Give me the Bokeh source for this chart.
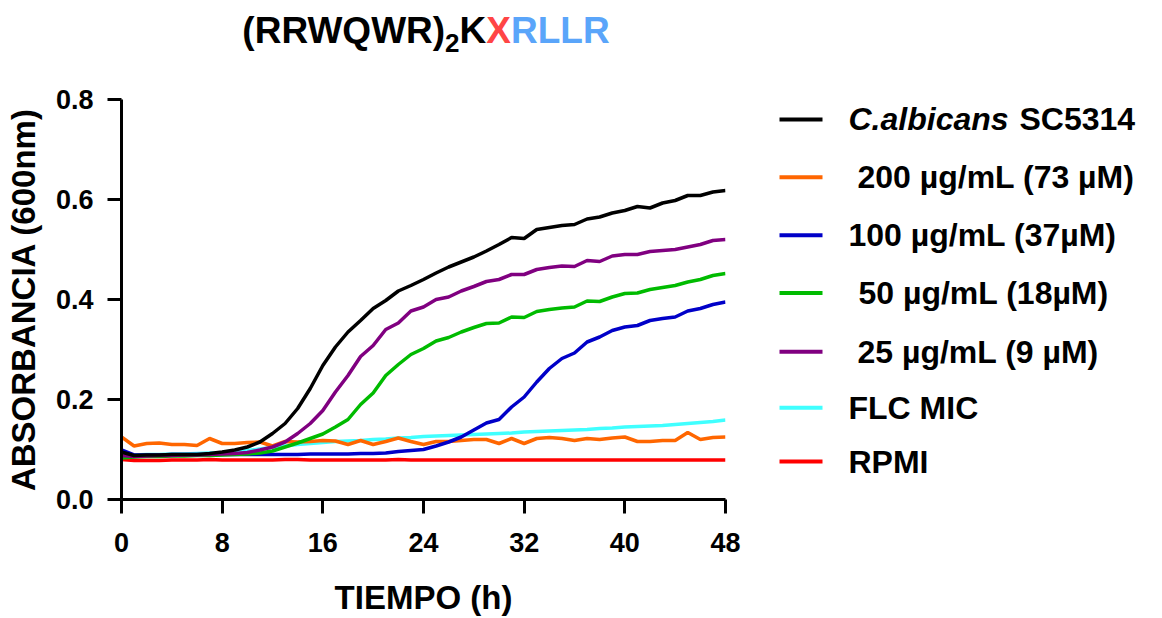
from bokeh.plotting import figure
from bokeh.models import FixedTicker, PrintfTickFormatter, Range1d, Div
from bokeh.layouts import column, row
from bokeh.core.properties import value
from bokeh.embed import file_html
from bokeh.resources import INLINE

# ---------------- data ----------------
time_h = list(range(49))

albicans = [0.095, 0.088, 0.089, 0.089, 0.090, 0.090, 0.090, 0.092, 0.095, 0.099,
            0.105, 0.115, 0.132, 0.152, 0.182, 0.222, 0.268, 0.305, 0.335, 0.358,
            0.382, 0.398, 0.417, 0.428, 0.440, 0.453, 0.465, 0.475, 0.485, 0.497,
            0.510, 0.524, 0.522, 0.540, 0.544, 0.548, 0.550, 0.561, 0.565, 0.573,
            0.578, 0.586, 0.583, 0.593, 0.598, 0.608, 0.608, 0.615, 0.618]

c200 = [0.125, 0.107, 0.112, 0.113, 0.110, 0.110, 0.108, 0.122, 0.112, 0.112,
        0.114, 0.115, 0.107, 0.116, 0.115, 0.116, 0.118, 0.117, 0.110, 0.118,
        0.110, 0.116, 0.123, 0.116, 0.110, 0.116, 0.116, 0.118, 0.120, 0.120,
        0.112, 0.122, 0.112, 0.122, 0.124, 0.122, 0.118, 0.122, 0.120, 0.123,
        0.125, 0.116, 0.116, 0.118, 0.118, 0.134, 0.120, 0.124, 0.125]

c100 = [0.099, 0.089, 0.089, 0.089, 0.090, 0.090, 0.090, 0.090, 0.090, 0.090,
        0.090, 0.090, 0.090, 0.090, 0.090, 0.091, 0.091, 0.091, 0.091, 0.092,
        0.092, 0.093, 0.096, 0.098, 0.100, 0.107, 0.115, 0.125, 0.139, 0.153,
        0.160, 0.185, 0.205, 0.235, 0.262, 0.282, 0.293, 0.315, 0.325, 0.338,
        0.345, 0.348, 0.358, 0.362, 0.365, 0.377, 0.382, 0.390, 0.395]

c50 = [0.083, 0.085, 0.086, 0.086, 0.087, 0.087, 0.088, 0.088, 0.089, 0.090,
       0.091, 0.093, 0.097, 0.105, 0.113, 0.122, 0.131, 0.145, 0.160, 0.190,
       0.213, 0.248, 0.270, 0.290, 0.302, 0.317, 0.324, 0.335, 0.344, 0.352,
       0.353, 0.365, 0.364, 0.376, 0.380, 0.383, 0.385, 0.397, 0.396, 0.405,
       0.412, 0.413, 0.420, 0.424, 0.428, 0.435, 0.440, 0.448, 0.452]

c25 = [0.088, 0.086, 0.087, 0.088, 0.088, 0.089, 0.089, 0.090, 0.091, 0.092,
       0.094, 0.099, 0.105, 0.115, 0.132, 0.152, 0.178, 0.215, 0.248, 0.286,
       0.308, 0.340, 0.353, 0.377, 0.385, 0.400, 0.405, 0.417, 0.426, 0.436,
       0.440, 0.450, 0.450, 0.460, 0.464, 0.467, 0.466, 0.478, 0.476, 0.487,
       0.490, 0.490, 0.496, 0.498, 0.500, 0.505, 0.510, 0.518, 0.520]

flc_mic = [0.087, 0.089, 0.090, 0.090, 0.091, 0.091, 0.092, 0.093, 0.094, 0.096,
           0.098, 0.101, 0.104, 0.107, 0.110, 0.112, 0.114, 0.116, 0.117, 0.118,
           0.120, 0.121, 0.123, 0.124, 0.126, 0.127, 0.128, 0.129, 0.130, 0.131,
           0.132, 0.133, 0.135, 0.136, 0.137, 0.138, 0.139, 0.140, 0.142, 0.143,
           0.145, 0.146, 0.147, 0.148, 0.150, 0.152, 0.154, 0.156, 0.159]

rpmi = [0.080, 0.078, 0.078, 0.078, 0.079, 0.079, 0.079, 0.080, 0.079, 0.079,
        0.079, 0.079, 0.079, 0.080, 0.080, 0.079, 0.079, 0.079, 0.079, 0.079,
        0.079, 0.079, 0.080, 0.079, 0.079, 0.079, 0.079, 0.079, 0.079, 0.079,
        0.079, 0.079, 0.079, 0.079, 0.079, 0.079, 0.079, 0.079, 0.079, 0.079,
        0.079, 0.079, 0.079, 0.079, 0.079, 0.079, 0.079, 0.079, 0.079]

x_ticks = [0, 8, 16, 24, 32, 40, 48]
y_ticks = [0.0, 0.2, 0.4, 0.6, 0.8]

series_names = ["C.albicans SC5314", "200 µg/mL (73 µM)", "100 µg/mL (37µM)",
                "50 µg/mL (18µM)", "25 µg/mL (9 µM)", "FLC MIC", "RPMI"]
series_values = [albicans, c200, c100, c50, c25, flc_mic, rpmi]
series_colors = ["#000000", "#FF6600", "#0000C8", "#00BB00", "#800080", "#40FFFF", "#FF0000"]

FONT = "Liberation Sans"

# ---------------- title ----------------
title_html = ('(RRWQWR)<span style="font-size:26px; vertical-align:-9px;">2</span>K'
              '<span style="color:#FF4545;">X</span>'
              '<span style="color:#5AA5FA;">RLLR</span>')
title = Div(text=title_html, width=852, height=60, margin=0,
            styles={"text-align": "center", "font-family": FONT, "font-weight": "bold",
                    "font-size": "37px", "line-height": "1", "color": "#000000",
                    "width": "852px", "padding-top": "12px", "box-sizing": "border-box"})

# ---------------- main plot ----------------
TOP, BOTTOM, FIG_H = 39, 118, 558
p = figure(width=760, height=FIG_H, x_range=Range1d(0, 48), y_range=Range1d(0, 0.8),
           output_backend="svg", toolbar_location=None, margin=0,
           min_border_left=121, min_border_right=35, min_border_top=TOP,
           min_border_bottom=BOTTOM)
p.outline_line_color = None
p.grid.visible = False
p.background_fill_color = "white"
p.border_fill_color = "white"

draw_order = [5, 6, 1, 2, 3, 4, 0]
for i in draw_order:
    p.line(time_h, series_values[i], line_color=series_colors[i], line_width=3.5)

p.xaxis.ticker = FixedTicker(ticks=x_ticks)
p.yaxis.ticker = FixedTicker(ticks=y_ticks)
p.yaxis.formatter = PrintfTickFormatter(format="%.1f")
p.xaxis.formatter = PrintfTickFormatter(format="%d")
for ax in (p.xaxis, p.yaxis):
    ax.axis_line_width = 3
    ax.axis_line_color = "black"
    ax.major_tick_line_width = 3
    ax.major_tick_line_color = "black"
    ax.major_tick_out = 14
    ax.major_tick_in = 0
    ax.minor_tick_out = 0
    ax.minor_tick_in = 0
    ax.major_label_text_font = FONT
    ax.major_label_text_font_style = "bold"
    ax.major_label_text_font_size = "27px"
    ax.major_label_text_color = "black"
    ax.axis_label_text_font = FONT
    ax.axis_label_text_font_style = "bold"
    ax.axis_label_text_color = "black"
    ax.axis_label_text_font_size = "33px"
p.xaxis.axis_label = "TIEMPO (h)"
p.xaxis.major_label_standoff = 19
p.xaxis.axis_label_standoff = 24
p.yaxis.axis_label = "ABSORBANCIA (600nm)"
p.yaxis.major_label_standoff = 14
p.yaxis.axis_label_standoff = 11

# ---------------- legend panel (coordinates = page pixels) ----------------
LEG_LEFT, LEG_W = 760, 394
lg = figure(width=LEG_W, height=FIG_H, x_range=Range1d(LEG_LEFT, LEG_LEFT + LEG_W),
            y_range=Range1d(FIG_H + 60 - BOTTOM, 60 + TOP),
            output_backend="svg", toolbar_location=None, margin=0,
            x_axis_location=None, y_axis_location=None,
            min_border_left=0, min_border_right=0, min_border_top=TOP,
            min_border_bottom=BOTTOM)
lg.outline_line_color = None
lg.grid.visible = False

row_y = [119, 177, 235, 293, 352, 408, 462]
text_x = [848, 857, 848, 858, 857, 848, 848]
lg.segment(x0=[779] * 7, y0=row_y, x1=[822] * 7, y1=row_y,
           line_color=series_colors, line_width=4)

lg.text(x=[text_x[0]], y=[row_y[0]], text=["C.albicans"], text_font=value(FONT),
        text_font_style="bold italic", text_font_size="32px", text_baseline="middle",
        text_color="black")
lg.text(x=[text_x[0] + 171], y=[row_y[0]], text=["SC5314"], text_font=value(FONT),
        text_font_style="bold", text_font_size="32px", text_baseline="middle",
        text_color="black")
lg.text(x=text_x[1:], y=row_y[1:], text=series_names[1:], text_font=value(FONT),
        text_font_style="bold", text_font_size="32px", text_baseline="middle",
        text_color="black")

layout = column(title, row(p, lg, margin=0), margin=0)
open("out.html", "w").write(file_html(layout, INLINE))
